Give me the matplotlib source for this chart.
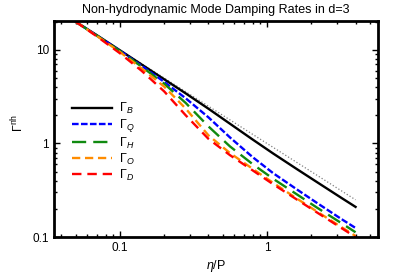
import matplotlib
matplotlib.use("Agg")
import matplotlib.pyplot as plt
from matplotlib.ticker import LogLocator, NullFormatter, FixedLocator, FixedFormatter

plt.rcParams['font.family'] = ['Liberation Sans', 'DejaVu Sans']
plt.rcParams['mathtext.fontset'] = 'custom'
plt.rcParams['mathtext.rm'] = 'Liberation Sans'
plt.rcParams['mathtext.it'] = 'Liberation Sans:italic'

# eta/P values
etaP = [0.05, 0.07, 0.1, 0.14, 0.2, 0.28, 0.4, 0.56, 0.8, 1.1, 1.6, 2.2, 3.2, 4.0]

# damping rates
gamma_B = [20, 14.29, 9.9, 7.0, 4.85, 3.43, 2.35, 1.625, 1.10, 0.782, 0.531, 0.384, 0.2625, 0.21]
gamma_Q = [20, 14.14, 9.8, 6.79, 4.55, 3.04, 1.90, 1.16, 0.713, 0.482, 0.322, 0.230, 0.156, 0.125]
gamma_H = [20, 14.14, 9.7, 6.64, 4.35, 2.71, 1.52, 0.93, 0.60, 0.42, 0.285, 0.205, 0.141, 0.1125]
gamma_O = [20, 14.0, 9.5, 6.36, 4.05, 2.36, 1.22, 0.79, 0.535, 0.38, 0.257, 0.186, 0.128, 0.1025]
gamma_D = [20, 13.86, 9.2, 6.0, 3.6, 2.0, 1.12, 0.75, 0.515, 0.367, 0.251, 0.182, 0.125, 0.100]

# reference 1/(eta/P) line
ref_x = [0.05, 4.0]
ref_y = [20, 0.25]

fig = plt.figure(figsize=(4.15, 2.75), dpi=100)
ax = fig.add_axes([0.130, 0.138, 0.781, 0.786])

ax.plot(ref_x, ref_y, ":", color="gray", lw=0.9)
ax.plot(etaP, gamma_B, "-", color="black", lw=1.7, label=r"$\Gamma_B$")
ax.plot(etaP, gamma_Q, color="#0000ff", lw=1.7, dashes=(2.8, 1), label=r"$\Gamma_Q$")
ax.plot(etaP, gamma_H, color="#108a10", lw=1.7, dashes=(6, 3), label=r"$\Gamma_H$")
ax.plot(etaP, gamma_O, color="#ff8c00", lw=1.7, dashes=(3.5, 2), label=r"$\Gamma_O$")
ax.plot(etaP, gamma_D, color="#ff0000", lw=1.7, dashes=(4, 2.5), label=r"$\Gamma_D$")

ax.set_xscale("log")
ax.set_yscale("log")
ax.set_xlim(0.0356, 5.69)
ax.set_ylim(0.1, 20.4)

ax.xaxis.set_major_locator(FixedLocator([0.1, 1]))
ax.xaxis.set_major_formatter(FixedFormatter(["0.1", "1"]))
ax.xaxis.set_minor_locator(LogLocator(base=10, subs=range(2, 10)))
ax.xaxis.set_minor_formatter(NullFormatter())
ax.yaxis.set_major_locator(FixedLocator([0.1, 1, 10]))
ax.yaxis.set_major_formatter(FixedFormatter(["0.1", "1", "10"]))
ax.yaxis.set_minor_locator(LogLocator(base=10, subs=range(2, 10)))
ax.yaxis.set_minor_formatter(NullFormatter())

ax.tick_params(which="both", direction="in", top=True, right=True, labelsize=8.5)
ax.tick_params(which="major", length=4, width=1)
ax.tick_params(which="minor", length=2.5, width=1)
for s in ax.spines.values():
    s.set_linewidth(2)

ax.set_title("Non-hydrodynamic Mode Damping Rates in d=3", fontsize=9, pad=6)
ax.set_xlabel(r"$\eta$/P", fontsize=9, labelpad=3)
ax.set_ylabel(r"$\Gamma^{\mathrm{nh}}$", fontsize=9)
ax.yaxis.set_label_coords(-0.085, 0.53)

ax.legend(loc="upper left", bbox_to_anchor=(0.02, 0.68), frameon=False,
          fontsize=9, handlelength=3.2, labelspacing=0.08, handletextpad=0.6)

fig.savefig("out.png", dpi=100)
